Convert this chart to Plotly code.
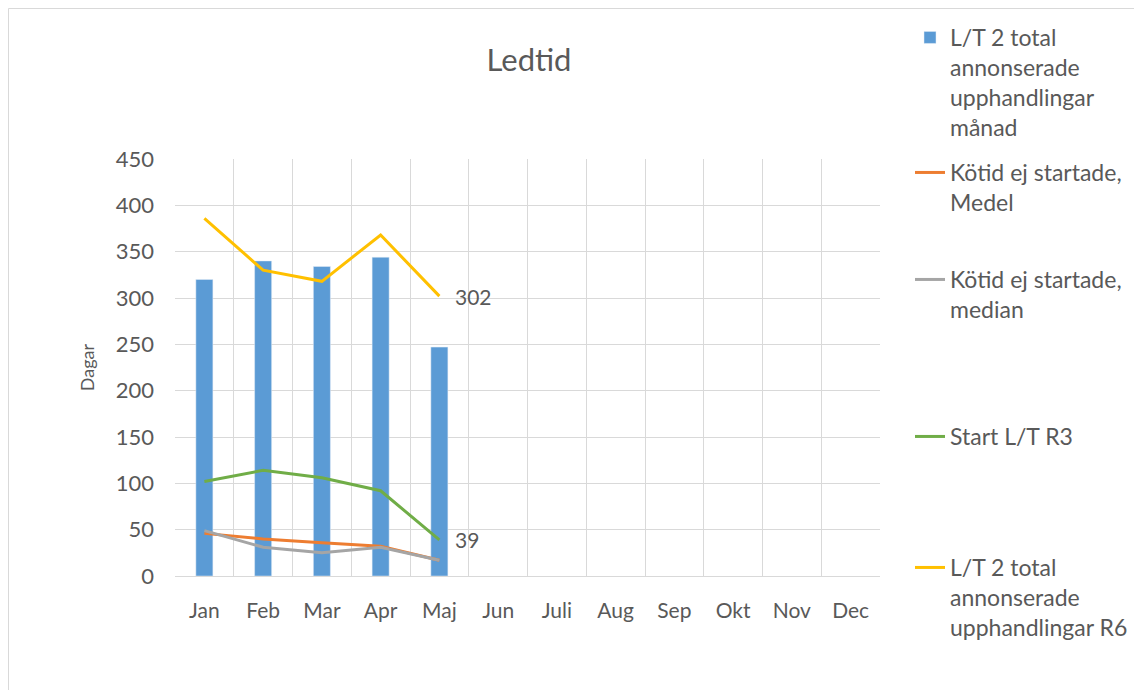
import plotly.graph_objects as go

months = ["Jan", "Feb", "Mar", "Apr", "Maj", "Jun", "Juli", "Aug", "Sep", "Okt", "Nov", "Dec"]
bar_manad = [320, 340, 334, 344, 247]
kotid_medel = [46, 40, 36, 32, 17]
kotid_median = [49, 31, 25, 31, 17]
start_r3 = [102, 114, 106, 92, 39]
total_r6 = [386, 330, 318, 368, 302]

names = [
    ["L/T 2 total", "annonserade", "upphandlingar", "månad"],
    ["Kötid ej startade,", "Medel"],
    ["Kötid ej startade,", "median"],
    ["Start L/T R3"],
    ["L/T 2 total", "annonserade", "upphandlingar R6"],
]
colors = ["#5B9BD5", "#ED7D31", "#A5A5A5", "#70AD47", "#FFC000"]

FONT = "Lato, 'Open Sans', sans-serif"
GREY = "#595959"
OFF = 8                      # page body margin
SW, SH = 1142, 690           # screen size
W, H = SW - OFF, SH - OFF    # figure size
L, R, T, B = 175, 880, 159, 576   # plot area in screen px


def px_x(p):
    return (p - L) / (R - L)


def px_y(p):
    return (B - p) / (B - T)


n = len(bar_manad)
x = months[:n]

fig = go.Figure()
fig.add_trace(go.Bar(x=x, y=bar_manad, name="<br>".join(names[0]), marker_color=colors[0],
                     width=0.29, legend="legend"))
series = [kotid_medel, kotid_median, start_r3, total_r6]
labelled = [False, False, True, True]
annotations = []
for i, vals in enumerate(series, start=1):
    fig.add_trace(go.Scatter(
        x=x, y=vals, name="<br>".join(names[i]), mode="lines",
        line=dict(color=colors[i], width=3),
        legend=f"legend{i+1}",
    ))
    if labelled[i - 1]:
        annotations.append(dict(x=x[-1], y=vals[-1], xref="x", yref="y", text=str(vals[-1]),
                                showarrow=False, xanchor="left", yanchor="middle", xshift=14,
                                font=dict(size=21, color=GREY, family=FONT)))

# keep all categories on the axis
fig.add_trace(go.Scatter(x=months, y=[None] * len(months), showlegend=False,
                         hoverinfo="skip", mode="lines"))

legend_tops = [16, 151, 258, 415, 546]
legend_common = dict(font=dict(family=FONT, size=23, color=GREY), bgcolor="rgba(0,0,0,0)",
                     xanchor="left", yanchor="top", valign="top", itemwidth=30,
                     tracegroupgap=0)
layout_leg = {}
for i, top in enumerate(legend_tops):
    key = "legend" if i == 0 else f"legend{i+1}"
    layout_leg[key] = dict(x=px_x(910), y=px_y(top), **legend_common)

fig.update_layout(
    width=W, height=H,
    margin=dict(l=L - OFF, r=SW - R, t=T - OFF, b=SH - B, autoexpand=False),
    paper_bgcolor="white", plot_bgcolor="white",
    font=dict(family=FONT, color=GREY, size=20),
    title=dict(text="Ledtid", xref="paper", x=px_x(529), xanchor="center",
               yref="container", y=1 - (60 - OFF) / H, yanchor="middle",
               font=dict(size=31, color=GREY, family=FONT)),
    showlegend=True,
    annotations=annotations,
    xaxis=dict(type="category", categoryorder="array", categoryarray=months,
               range=[-0.5, 11.5], tickson="boundaries", showgrid=True, gridcolor="#D9D9D9",
               gridwidth=1, showline=True, linecolor="#D9D9D9", ticks="", ticklabelstandoff=16,
               tickfont=dict(size=21, color=GREY, family=FONT), zeroline=False),
    yaxis=dict(range=[0, 450], dtick=50, showgrid=True, gridcolor="#D9D9D9", gridwidth=1,
               zeroline=False, ticks="", ticklabelstandoff=20,
               tickfont=dict(size=22, color=GREY, family=FONT),
               title=dict(text="Dagar", font=dict(size=18, color=GREY, family=FONT), standoff=16)),
    shapes=[dict(type="rect", xref="paper", yref="paper",
                 x0=px_x(OFF + 0.5), x1=px_x(1170), y0=px_y(720), y1=px_y(OFF + 0.5),
                 line=dict(color="#D9D9D9", width=1), fillcolor="rgba(0,0,0,0)", layer="below")],
    **layout_leg,
)

fig.write_html("out.html")
